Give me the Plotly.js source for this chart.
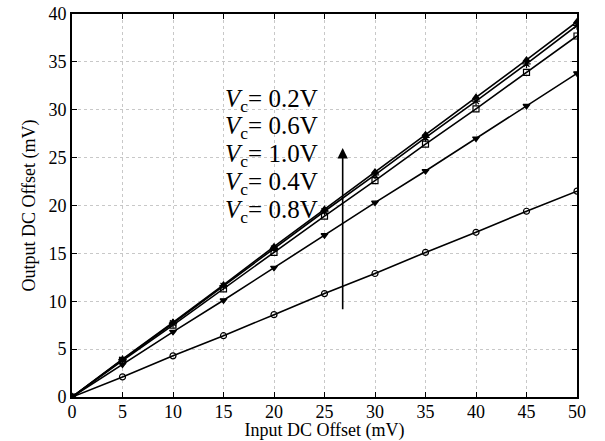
<!DOCTYPE html>
<html><head><meta charset="utf-8">
<script src="https://cdn.plot.ly/plotly-3.0.1.min.js"></script>
<style>body{margin:0;background:#fff}#c{width:605px;height:441px}</style>
</head><body><div id="c"></div>
<script>
const xIn = [0,5,10,15,20,25,30,35,40,45,50];
const sCircle = [0,2.1,4.3,6.4,8.6,10.8,12.9,15.1,17.2,19.4,21.5];
const sTriDown = [0,3.4,6.8,10.1,13.5,16.9,20.3,23.6,27.0,30.4,33.8];
const sSquare = [0,3.8,7.5,11.3,15.1,18.9,22.6,26.4,30.1,33.9,37.7];
const sAst = [0,3.9,7.7,11.6,15.5,19.4,23.2,27.1,30.9,34.8,38.8];
const sTriUp = [0,3.95,7.8,11.7,15.7,19.6,23.5,27.4,31.3,35.2,39.2];
const labels = ['0.2V','0.6V','1.0V','0.4V','0.8V'];
const labelY = [31.0,28.1,25.2,22.3,19.4];

const font = 'Liberation Serif, Times New Roman, serif';
function tr(y, sym, size){
  return {x:xIn, y:y, mode:'lines+markers', line:{color:'#000',width:1.6},
    marker:{symbol:sym,size:size||6,color:'#000',line:{color:'#000',width:1.2}},showlegend:false};
}
const data = [
  tr(sCircle,'circle-open',6),
  tr(sTriDown,'triangle-down',6),
  tr(sSquare,'square-open',6),
  tr(sAst,'asterisk-open',7),
  tr(sTriUp,'triangle-up',6)
];
const ann = labels.map((l,i)=>({x:19.8,y:labelY[i],xref:'x',yref:'y',showarrow:false,
  text:'<i>V</i><sub>c</sub>=\u00a0'+l,font:{family:font,size:25,color:'#000'},xanchor:'center',yanchor:'middle'}));
ann.push({x:26.8,y:26.0,ax:26.8,ay:9.0,xref:'x',yref:'y',axref:'x',ayref:'y',text:'',showarrow:true,
  arrowhead:2,arrowsize:1.3,arrowwidth:1.6,arrowcolor:'#000'});
const axisBase = {showline:true,linecolor:'#000',linewidth:2,mirror:'ticks',ticks:'inside',ticklen:5,
  tickcolor:'#000',tickwidth:1,showgrid:true,gridcolor:'#c8c8c8',griddash:'dot',gridwidth:1,zeroline:false,
  tickfont:{family:font,size:18,color:'#000'}};
const layout = {width:605,height:441,margin:{l:72,r:28,t:14,b:44},paper_bgcolor:'#fff',plot_bgcolor:'#fff',
  xaxis:Object.assign({},axisBase,{range:[0,50],dtick:5,ticklabelstandoff:-3,title:{text:'Input DC Offset (mV)',font:{family:font,size:18,color:'#000'},standoff:2}}),
  yaxis:Object.assign({},axisBase,{range:[0,40],dtick:5,title:{text:'Output DC Offset (mV)',font:{family:font,size:18,color:'#000'},standoff:8}}),
  annotations:ann};
Plotly.newPlot('c',data,layout,{staticPlot:true});
</script></body></html>
